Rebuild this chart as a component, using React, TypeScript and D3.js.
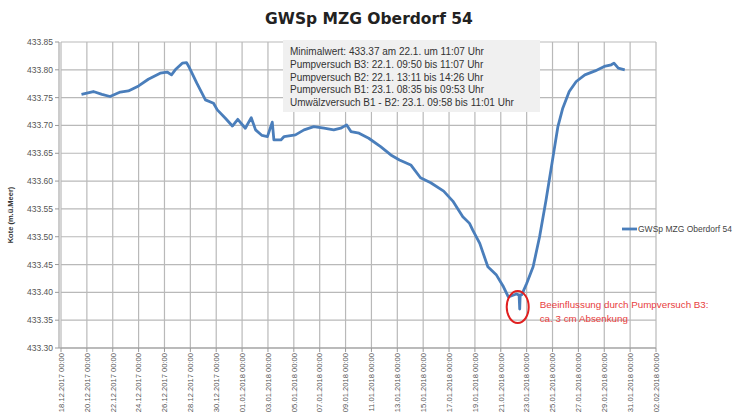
import React from 'react';
import * as d3 from 'd3';

const title = 'GWSp MZG Oberdorf 54';
const seriesName = 'GWSp MZG Oberdorf 54';
const yTitle = 'Kote (m.ü.Meer)';

const times = [
  '2017-12-19T14:00', '2017-12-20T12:00', '2017-12-21T04:00', '2017-12-21T19:00',
  '2017-12-22T14:00', '2017-12-23T05:00', '2017-12-24T00:00', '2017-12-24T18:00',
  '2017-12-25T16:00', '2017-12-26T05:00', '2017-12-26T13:00', '2017-12-26T20:00',
  '2017-12-27T09:00', '2017-12-27T17:00', '2017-12-27T21:00', '2017-12-28T12:00',
  '2017-12-29T04:00', '2017-12-29T19:00', '2017-12-30T02:00', '2017-12-30T17:00',
  '2017-12-31T06:00', '2017-12-31T16:00', '2018-01-01T06:00', '2018-01-01T17:00',
  '2018-01-02T01:00', '2018-01-02T13:00', '2018-01-02T23:00', '2018-01-03T08:00',
  '2018-01-03T11:00', '2018-01-04T00:00', '2018-01-04T06:00', '2018-01-05T03:00',
  '2018-01-05T19:00', '2018-01-06T13:00', '2018-01-07T08:00', '2018-01-08T02:00',
  '2018-01-08T15:00', '2018-01-09T02:00', '2018-01-09T10:00', '2018-01-10T01:00',
  '2018-01-10T19:00', '2018-01-11T17:00', '2018-01-12T12:00', '2018-01-13T04:00',
  '2018-01-14T01:00', '2018-01-14T19:00', '2018-01-15T14:00', '2018-01-16T14:00',
  '2018-01-17T07:00', '2018-01-18T01:30', '2018-01-18T14:00', '2018-01-18T20:00',
  '2018-01-19T09:00', '2018-01-20T00:00', '2018-01-20T16:00', '2018-01-21T05:00',
  '2018-01-21T14:00', '2018-01-22T05:00', '2018-01-22T10:00', '2018-01-22T11:07',
  '2018-01-22T12:00', '2018-01-22T15:00', '2018-01-23T00:00', '2018-01-23T12:00',
  '2018-01-24T00:00', '2018-01-24T12:00', '2018-01-25T01:00', '2018-01-25T10:00',
  '2018-01-25T19:00', '2018-01-26T07:00', '2018-01-26T20:00', '2018-01-27T12:00',
  '2018-01-28T07:00', '2018-01-29T00:00', '2018-01-29T13:00', '2018-01-29T18:00',
  '2018-01-30T02:00', '2018-01-30T14:00',
];

const levels = [
  433.756, 433.761, 433.756, 433.752,
  433.760, 433.762, 433.771, 433.783,
  433.794, 433.796, 433.791, 433.800,
  433.812, 433.813, 433.806, 433.776,
  433.746, 433.740, 433.728, 433.713,
  433.699, 433.711, 433.695, 433.714,
  433.692, 433.682, 433.680, 433.706,
  433.674, 433.674, 433.680, 433.683,
  433.692, 433.698, 433.695, 433.692,
  433.695, 433.701, 433.689, 433.686,
  433.677, 433.662, 433.647, 433.638,
  433.629, 433.606, 433.597, 433.582,
  433.564, 433.536, 433.524, 433.512,
  433.488, 433.446, 433.431, 433.410,
  433.392, 433.397, 433.395, 433.370,
  433.395, 433.396, 433.416, 433.446,
  433.500, 433.566, 433.644, 433.698,
  433.731, 433.761, 433.779, 433.791,
  433.798, 433.806, 433.809, 433.812,
  433.803, 433.800,
];

const yTicks = [433.3, 433.35, 433.4, 433.45, 433.5, 433.55, 433.6, 433.65, 433.7, 433.75, 433.8, 433.85];

const xTickLabels = [
  '18.12.2017 00:00', '20.12.2017 00:00', '22.12.2017 00:00', '24.12.2017 00:00',
  '26.12.2017 00:00', '28.12.2017 00:00', '30.12.2017 00:00', '01.01.2018 00:00',
  '03.01.2018 00:00', '05.01.2018 00:00', '07.01.2018 00:00', '09.01.2018 00:00',
  '11.01.2018 00:00', '13.01.2018 00:00', '15.01.2018 00:00', '17.01.2018 00:00',
  '19.01.2018 00:00', '21.01.2018 00:00', '23.01.2018 00:00', '25.01.2018 00:00',
  '27.01.2018 00:00', '29.01.2018 00:00', '31.01.2018 00:00', '02.02.2018 00:00',
];

const infoLines = [
  'Minimalwert: 433.37 am 22.1. um  11:07 Uhr',
  'Pumpversuch B3: 22.1. 09:50 bis 11:07 Uhr',
  'Pumpversuch B2: 22.1. 13:11 bis 14:26 Uhr',
  'Pumpversuch B1: 23.1. 08:35 bis 09:53 Uhr',
  'Umwälzversuch B1 -  B2: 23.1. 09:58 bis 11:01 Uhr',
];

const noteLines = ['Beeinflussung durch Pumpversuch B3:', 'ca. 3 cm Absenkung'];

const parseTime = d3.timeParse('%Y-%m-%dT%H:%M');
const parseTick = d3.timeParse('%d.%m.%Y %H:%M');

const font = 'Liberation Sans, Arial, sans-serif';
const gridColor = '#b9b9b9';
const lineColor = '#4a7ebb';

const App = () => {
  const width = 739;
  const height = 417;
  const left = 61;
  const right = 656;
  const top = 42;
  const bottom = 348;

  const data = times.map((t, i) => ({ date: parseTime(t), value: levels[i] }));
  const tickDates = xTickLabels.map(s => parseTick(s));

  const x = d3
    .scaleTime()
    .domain([tickDates[0], tickDates[tickDates.length - 1]])
    .range([left, right]);
  const y = d3.scaleLinear().domain([433.3, 433.85]).range([bottom, top]);

  const line = d3
    .line<{ date: Date; value: number }>()
    .x(d => x(d.date))
    .y(d => y(d.value))
    .curve(d3.curveLinear);

  const fmt = d3.format('.2f');
  const minPoint = data.reduce((a, b) => (b.value < a.value ? b : a));
  const mx = x(minPoint.date);
  const my = y(minPoint.value);

  return (
    <svg
      width={width}
      height={height}
      style={{ position: 'absolute', left: 0, top: 0, background: '#fff' }}
      fontFamily={font}
    >
      <text
        x={369}
        y={24}
        textAnchor="middle"
        fontSize={15.5}
        fontWeight="bold"
        fill="#222"
        fontFamily="DejaVu Sans, sans-serif"
      >
        {title}
      </text>

      {/* grid */}
      {yTicks.map(t => (
        <line key={'gy' + t} x1={left} x2={right} y1={y(t)} y2={y(t)} stroke={gridColor} strokeWidth={1.2} />
      ))}
      {tickDates.map((d, i) => (
        <line key={'gx' + i} x1={x(d)} x2={x(d)} y1={top} y2={bottom} stroke={gridColor} strokeWidth={1.2} />
      ))}

      {/* axes */}
      <line x1={left - 2} x2={left - 2} y1={top} y2={bottom} stroke="#999" />
      <line x1={left - 2} x2={right} y1={bottom} y2={bottom} stroke="#999" />
      {yTicks.map(t => (
        <g key={'yt' + t}>
          <line x1={left - 6} x2={left - 2} y1={y(t)} y2={y(t)} stroke="#999" />
          <text x={53} y={y(t) + 3} textAnchor="end" fontSize={8.5} fill="#555">
            {fmt(t)}
          </text>
        </g>
      ))}
      {tickDates.map((d, i) => (
        <g key={'xt' + i}>
          <line x1={x(d)} x2={x(d)} y1={bottom} y2={bottom + 4} stroke="#999" />
          <text
            transform={`translate(${x(d) + 2.8},${bottom + 5}) rotate(-90)`}
            textAnchor="end"
            fontSize={7.6}
            fill="#555"
          >
            {xTickLabels[i]}
          </text>
        </g>
      ))}
      <text
        transform={`translate(13,${(top + bottom) / 2 + 20}) rotate(-90)`}
        textAnchor="middle"
        fontSize={7.5}
        fontWeight="bold"
        fill="#333"
      >
        {yTitle}
      </text>

      {/* series */}
      <path d={line(data) || ''} fill="none" stroke={lineColor} strokeWidth={2.8} strokeLinejoin="round" />

      {/* info box */}
      <rect x={283} y={40} width={257} height={72} fill="#f0f0f0" />
      {infoLines.map((s, i) => (
        <text key={'info' + i} x={290} y={55 + i * 12.8} fontSize={10} fill="#333">
          {s}
        </text>
      ))}

      {/* pump test note */}
      <ellipse cx={mx - 2} cy={my - 2} rx={11} ry={16} fill="none" stroke="#e02020" strokeWidth={2} />
      {noteLines.map((s, i) => (
        <text key={'note' + i} x={mx + 20} y={my - 1 + i * 13.5} fontSize={9.8} fill="#e84040">
          {s}
        </text>
      ))}

      {/* legend */}
      <line x1={622} x2={637} y1={229} y2={229} stroke={lineColor} strokeWidth={2.8} />
      <text x={638} y={232} fontSize={8.5} fill="#444">
        {seriesName}
      </text>
    </svg>
  );
};

export default App;
